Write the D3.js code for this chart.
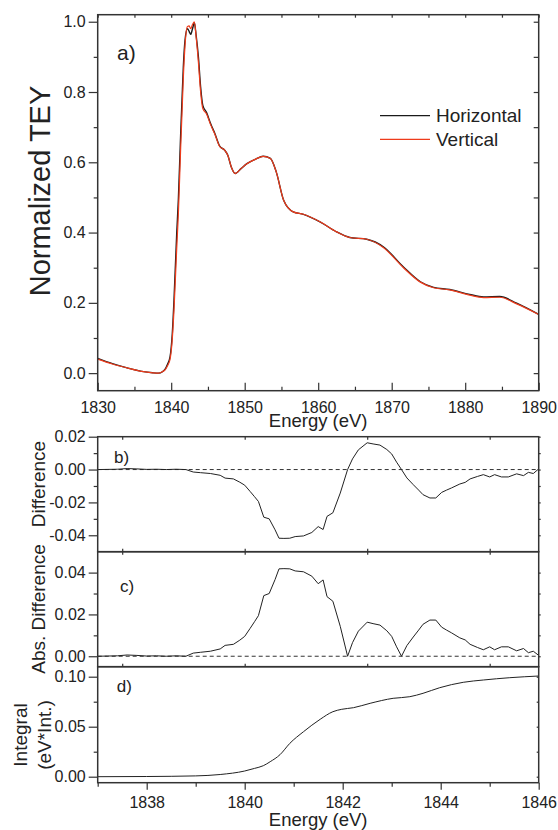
<!DOCTYPE html>
<html>
<head>
<meta charset="utf-8">
<script src="https://cdn.jsdelivr.net/npm/d3@7"></script>
<style>
  body { margin: 0; background: #fff; }
  text { font-family: "Liberation Sans", Arial, sans-serif; fill: #222; }
</style>
</head>
<body>
<script>
// ---- panel a: normalized TEY spectra ----
const energyA = [1830, 1832, 1834, 1836, 1837.5, 1838.3, 1838.8, 1839.2, 1839.5, 1839.84,
  1840.15, 1840.38, 1840.75, 1840.97, 1841.29, 1841.47, 1841.65, 1841.88, 1842.2, 1842.45,
  1842.65, 1842.9, 1843.15, 1843.4, 1843.7, 1844.0, 1844.3, 1844.8, 1845.4, 1845.9,
  1846.6, 1847.3, 1847.7, 1848.2, 1848.7, 1849.5, 1850.3, 1851.5, 1852.5, 1853.5,
  1854.3, 1855.3, 1856.6, 1858.0, 1860.3, 1862.5, 1864.3, 1866.6, 1868.9, 1871.6,
  1873.9, 1875.7, 1877.9, 1880.6, 1882.5, 1884.7, 1887.0, 1890];
const horizontal = [0.042, 0.027, 0.015, 0.005, 0.001, 0.000, 0.004, 0.012, 0.025, 0.046,
  0.113, 0.208, 0.397, 0.492, 0.682, 0.777, 0.871, 0.947, 0.980, 0.972,
  0.964, 0.980, 0.997, 0.960, 0.900, 0.815, 0.762, 0.742, 0.708, 0.684,
  0.646, 0.634, 0.620, 0.585, 0.568, 0.582, 0.596, 0.609, 0.617, 0.611,
  0.572, 0.492, 0.459, 0.452, 0.430, 0.402, 0.386, 0.381, 0.359, 0.302,
  0.260, 0.244, 0.238, 0.224, 0.217, 0.218, 0.199, 0.167];
const vertical = [0.040, 0.026, 0.015, 0.005, 0.001, 0.000, 0.004, 0.010, 0.021, 0.039,
  0.098, 0.180, 0.355, 0.450, 0.642, 0.740, 0.840, 0.932, 0.986, 0.988,
  0.980, 0.992, 1.000, 0.955, 0.885, 0.801, 0.753, 0.738, 0.705, 0.682,
  0.645, 0.634, 0.620, 0.585, 0.568, 0.582, 0.596, 0.609, 0.617, 0.611,
  0.572, 0.492, 0.459, 0.452, 0.430, 0.402, 0.386, 0.381, 0.357, 0.300,
  0.259, 0.243, 0.237, 0.222, 0.215, 0.216, 0.197, 0.167];

// ---- panels b, c: difference and abs difference ----
const energyB = [1837.0, 1837.2, 1837.4, 1837.6, 1837.8, 1838.0, 1838.2, 1838.4, 1838.6, 1838.8,
  1838.95, 1839.1, 1839.3, 1839.5, 1839.6, 1839.77, 1839.9, 1840.0, 1840.11, 1840.2,
  1840.28, 1840.39, 1840.5, 1840.62, 1840.7, 1840.8, 1840.92, 1841.03, 1841.2, 1841.37,
  1841.5, 1841.6, 1841.68, 1841.8, 1841.95, 1842.1, 1842.2, 1842.32, 1842.5, 1842.62,
  1842.76, 1842.9, 1843.0, 1843.1, 1843.2, 1843.31, 1843.44, 1843.55, 1843.64, 1843.78,
  1843.9, 1844.02, 1844.12, 1844.22, 1844.39, 1844.5, 1844.6, 1844.75, 1844.87, 1845.0,
  1845.1, 1845.24, 1845.38, 1845.55, 1845.69, 1845.79, 1845.89, 1846.0];
const difference = [0.0000, 0.0001, 0.0002, 0.0006, 0.0004, 0.0001, 0.0002, 0.0000, 0.0002, 0.0000,
  -0.0015, -0.0019, -0.0024, -0.0035, -0.0052, -0.0057, -0.0077, -0.0095, -0.0133, -0.0165,
  -0.0194, -0.0290, -0.0300, -0.0367, -0.0418, -0.0419, -0.0418, -0.0408, -0.0404, -0.0383,
  -0.0347, -0.0365, -0.0285, -0.0263, -0.0143, 0.0000, 0.0065, 0.0120, 0.0163, 0.0156,
  0.0149, 0.0122, 0.0095, 0.0045, 0.0000, -0.0051, -0.0092, -0.0125, -0.0153, -0.0173,
  -0.0173, -0.0139, -0.0125, -0.0112, -0.0088, -0.0078, -0.0057, -0.0042, -0.0031, -0.0045,
  -0.0031, -0.0045, -0.0045, -0.0026, -0.0037, -0.0017, -0.0024, 0.0004];
const absDifference = [0.0000, 0.0001, 0.0002, 0.0006, 0.0004, 0.0001, 0.0002, 0.0000, 0.0002, 0.0000,
  0.0015, 0.0019, 0.0024, 0.0035, 0.0052, 0.0057, 0.0077, 0.0095, 0.0133, 0.0165,
  0.0194, 0.0290, 0.0300, 0.0367, 0.0418, 0.0419, 0.0418, 0.0408, 0.0404, 0.0383,
  0.0347, 0.0365, 0.0285, 0.0263, 0.0143, 0.0000, 0.0065, 0.0120, 0.0163, 0.0156,
  0.0149, 0.0122, 0.0095, 0.0045, 0.0000, 0.0051, 0.0092, 0.0125, 0.0153, 0.0173,
  0.0173, 0.0139, 0.0125, 0.0112, 0.0088, 0.0078, 0.0057, 0.0042, 0.0031, 0.0045,
  0.0031, 0.0045, 0.0045, 0.0026, 0.0037, 0.0017, 0.0024, 0.0004];

// ---- panel d: integral ----
const energyD = [1837.0, 1838.0, 1839.0, 1839.5, 1840.0, 1840.2, 1840.38, 1840.52, 1840.72, 1840.92,
  1841.2, 1841.54, 1841.8, 1841.98, 1842.22, 1842.56, 1843.03, 1843.37, 1843.64, 1843.98,
  1844.46, 1844.87, 1845.41, 1846.0];
const integral = [0.0000, 0.0002, 0.0008, 0.0022, 0.0057, 0.0083, 0.0110, 0.0150, 0.0220, 0.0333,
  0.0450, 0.0574, 0.0650, 0.0674, 0.0690, 0.0734, 0.0784, 0.0800, 0.0834, 0.0890,
  0.0944, 0.0967, 0.0990, 0.1007];

// ---- tick values ----
const ticksAx = [1830, 1840, 1850, 1860, 1870, 1880, 1890];
const minorAx = [1835, 1845, 1855, 1865, 1875, 1885];
const ticksAy = [0.0, 0.2, 0.4, 0.6, 0.8, 1.0];
const minorAy = [0.1, 0.3, 0.5, 0.7, 0.9];
const ticksBy = [-0.04, -0.02, 0.00, 0.02];
const minorBy = [-0.03, -0.01, 0.01];
const ticksCy = [0.00, 0.02, 0.04];
const minorCy = [0.01, 0.03];
const ticksDy = [0.00, 0.05, 0.10];
const minorDy = [0.025, 0.075];
const ticksDx = [1838, 1840, 1842, 1844, 1846];
const minorDx = [1837, 1839, 1841, 1843, 1845];
const midTicks = [1837.5, 1840, 1842.5, 1845];

const W = 558, H = 830;
const left = 97.7, right = 538.7;
const ink = "#333";

const svg = d3.select("body").append("svg")
  .attr("width", W)
  .attr("height", H);

const xA = d3.scaleLinear().domain([1830, 1890]).range([left, right]);
const yA = d3.scaleLinear().domain([-0.05, 1.02]).range([390.7, 14.7]);
const xB = d3.scaleLinear().domain([1837, 1846]).range([left, right]);
const yB = d3.scaleLinear().domain([-0.05, 0.02]).range([551.7, 436.7]);
const yC = d3.scaleLinear().domain([-0.005, 0.05]).range([666.7, 551.7]);
const yD = d3.scaleLinear().domain([-0.006, 0.11]).range([782.7, 666.7]);

// small helper: draw an axis (ticks + labels), no domain line
function drawAxis(gen, transform, values, size, fmt, pad) {
  const g = svg.append("g")
    .attr("transform", transform)
    .call(gen.tickValues(values).tickSize(size).tickSizeOuter(0).tickPadding(pad || 3).tickFormat(fmt || ""));
  g.select(".domain").remove();
  g.selectAll("line").attr("stroke", ink).attr("stroke-width", 1.2);
  g.selectAll("text").attr("font-size", 16).attr("fill", "#222");
  return g;
}

// ---- panel a axes ----
drawAxis(d3.axisBottom(xA), `translate(0,390.7)`, ticksAx, -8, d3.format("d"), 11);
drawAxis(d3.axisBottom(xA), `translate(0,390.7)`, minorAx, -4);
drawAxis(d3.axisTop(xA), `translate(0,14.7)`, ticksAx.concat(minorAx), -3);
drawAxis(d3.axisLeft(yA), `translate(${left},0)`, ticksAy, 9, d => d.toFixed(1), 3);
drawAxis(d3.axisLeft(yA), `translate(${left},0)`, minorAy, 4);
drawAxis(d3.axisRight(yA), `translate(${right},0)`, ticksAy.concat(minorAy), -5);

// ---- panel b axes ----
drawAxis(d3.axisLeft(yB), `translate(${left},0)`, ticksBy, 9, d => d.toFixed(2), 3);
drawAxis(d3.axisLeft(yB), `translate(${left},0)`, minorBy, 4);
drawAxis(d3.axisRight(yB), `translate(${right},0)`, ticksBy.concat(minorBy), 2);
drawAxis(d3.axisTop(xB), `translate(0,436.7)`, midTicks, -3);

// ---- panel c axes ----
drawAxis(d3.axisLeft(yC), `translate(${left},0)`, ticksCy, 9, d => d.toFixed(2), 3);
drawAxis(d3.axisLeft(yC), `translate(${left},0)`, minorCy, 4);
drawAxis(d3.axisRight(yC), `translate(${right},0)`, ticksCy.concat(minorCy), 2);
drawAxis(d3.axisTop(xB), `translate(0,551.7)`, midTicks, 3);
drawAxis(d3.axisBottom(xB), `translate(0,551.7)`, midTicks, 3);
drawAxis(d3.axisTop(xB), `translate(0,666.7)`, midTicks, 3);

// ---- panel d axes ----
drawAxis(d3.axisLeft(yD), `translate(${left},0)`, ticksDy, 9, d => d.toFixed(2), 3);
drawAxis(d3.axisLeft(yD), `translate(${left},0)`, minorDy, 4);
drawAxis(d3.axisRight(yD), `translate(${right},0)`, ticksDy.concat(minorDy), -2);
drawAxis(d3.axisBottom(xB), `translate(0,782.7)`, ticksDx, 7, d3.format("d"), 7);
drawAxis(d3.axisBottom(xB), `translate(0,782.7)`, minorDx, 4);

// ---- dashed zero lines ----
svg.append("line")
  .attr("x1", left).attr("x2", right)
  .attr("y1", yB(0)).attr("y2", yB(0))
  .attr("stroke", ink).attr("stroke-width", 1).attr("stroke-dasharray", "4,3");
svg.append("line")
  .attr("x1", left).attr("x2", right)
  .attr("y1", yC(0)).attr("y2", yC(0))
  .attr("stroke", ink).attr("stroke-width", 1).attr("stroke-dasharray", "4,3");

// ---- curves ----
const lineA = (vals) => d3.line()
  .x((d, i) => xA(energyA[i]))
  .y((d, i) => yA(vals[i]))
  .curve(d3.curveMonotoneX)(vals);

svg.append("path")
  .attr("d", lineA(horizontal))
  .attr("fill", "none").attr("stroke", "#1a1a1a").attr("stroke-width", 1.4);
svg.append("path")
  .attr("d", lineA(vertical))
  .attr("fill", "none").attr("stroke", "#ee3b1b").attr("stroke-width", 1.2);

svg.append("path")
  .attr("d", d3.line().x((d, i) => xB(energyB[i])).y(d => yB(d))(difference))
  .attr("fill", "none").attr("stroke", "#222").attr("stroke-width", 1);
svg.append("path")
  .attr("d", d3.line().x((d, i) => xB(energyB[i])).y(d => yC(d))(absDifference))
  .attr("fill", "none").attr("stroke", "#222").attr("stroke-width", 1);
svg.append("path")
  .attr("d", d3.line().x((d, i) => xB(energyD[i])).y(d => yD(d)).curve(d3.curveMonotoneX)(integral))
  .attr("fill", "none").attr("stroke", "#222").attr("stroke-width", 1);

// ---- frames ----
[[14.7, 390.7], [436.7, 551.7], [551.7, 666.7], [666.7, 782.7]].forEach(p => {
  svg.append("rect")
    .attr("x", left).attr("y", p[0])
    .attr("width", right - left).attr("height", p[1] - p[0])
    .attr("fill", "none").attr("stroke", ink).attr("stroke-width", 1.5);
});

// ---- legend ----
svg.append("line").attr("x1", 380).attr("x2", 430).attr("y1", 115.7).attr("y2", 115.7)
  .attr("stroke", "#1a1a1a").attr("stroke-width", 1.2);
svg.append("text").attr("x", 436).attr("y", 122).attr("font-size", 19).text("Horizontal");
svg.append("line").attr("x1", 380).attr("x2", 430).attr("y1", 139.3).attr("y2", 139.3)
  .attr("stroke", "#ee3b1b").attr("stroke-width", 1.2);
svg.append("text").attr("x", 436).attr("y", 146).attr("font-size", 19).text("Vertical");

// ---- panel letters ----
svg.append("text").attr("x", 117).attr("y", 60).attr("font-size", 21).text("a)");
svg.append("text").attr("x", 114).attr("y", 462.7).attr("font-size", 17).text("b)");
svg.append("text").attr("x", 120).attr("y", 591.7).attr("font-size", 17).text("c)");
svg.append("text").attr("x", 116.7).attr("y", 691.7).attr("font-size", 17).text("d)");

// ---- axis titles ----
svg.append("text").attr("x", 318.2).attr("y", 427).attr("text-anchor", "middle")
  .attr("font-size", 18.5).text("Energy (eV)");
svg.append("text").attr("x", 318.2).attr("y", 826).attr("text-anchor", "middle")
  .attr("font-size", 18.5).text("Energy (eV)");

function yTitle(x, y, size, txt) {
  svg.append("text")
    .attr("transform", `translate(${x},${y}) rotate(-90)`)
    .attr("text-anchor", "middle")
    .attr("font-size", size)
    .text(txt);
}
yTitle(50, 191, 29, "Normalized TEY");
yTitle(45, 484, 19, "Difference");
yTitle(45, 609, 19, "Abs. Difference");
yTitle(26.5, 735, 19, "Integral");
yTitle(51, 735, 19, "(eV*Int.)");
</script>
</body>
</html>
